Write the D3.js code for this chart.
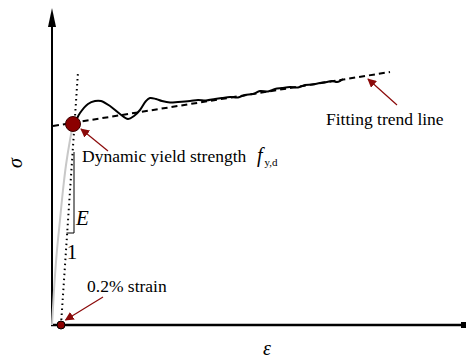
<!DOCTYPE html>
<html>
<head>
<meta charset="utf-8">
<script src="https://cdn.jsdelivr.net/npm/d3@7"></script>
<style>
  body { margin: 0; background: #fff; }
  svg { display: block; font-family: "Liberation Serif", "Times New Roman", serif; }
</style>
</head>
<body>
<div id="chart"></div>
<script>
// strain (arbitrary units) / stress (MPa-ish)
const testStrain = [2.1, 2.3, 2.8, 3.6, 4.3, 4.9, 5.8, 6.8, 7.6, 8.2, 8.8, 9.4, 9.8, 10.4, 11.0, 11.8, 12.6,
  13.8, 14.6, 15.4, 16.3, 17.0, 17.8, 18.6, 19.3, 20.1, 20.8, 21.6, 22.3, 23.0, 23.8, 24.6, 25.3, 26.0,
  26.8, 27.5, 28.0, 28.5, 28.8, 29.1];
const testStress = [402, 406, 424, 442, 448, 448, 438, 422, 412, 418, 430, 448, 454, 452, 448, 445, 446,
  448, 450, 449, 452, 454, 456, 455, 460, 462, 468, 467, 472, 474, 476, 475, 480, 481,
  484, 486, 488, 486, 488, 492];

const elasticStrain = [0, 0.2, 0.5, 0.8, 1.1, 1.4, 1.8, 2.1];
const elasticStress = [0, 70, 150, 210, 270, 320, 370, 402];

const offsetStrain = [0.9, 2.6];   // 0.2% offset line
const offsetStress = [0, 506];

const trendStrain = [0.1, 33.8];   // fitting trend line
const trendStress = [398, 506];

const yieldPoint = [2.1, 402];
const strainPoint = [0.9, 0];

const width = 468, height = 358;
const svg = d3.select("#chart").append("svg")
    .attr("width", width)
    .attr("height", height);

const x = d3.scaleLinear().domain([0, 41.4]).range([52, 466]);
const y = d3.scaleLinear().domain([0, 630]).range([325, 10]);

const red = "#8b0a0a";

const defs = svg.append("defs");
defs.append("marker")
    .attr("id", "redhead")
    .attr("viewBox", "0 0 10 10")
    .attr("refX", 9).attr("refY", 5)
    .attr("markerWidth", 9).attr("markerHeight", 9)
    .attr("markerUnits", "userSpaceOnUse")
    .attr("orient", "auto")
  .append("path")
    .attr("d", "M0,0 L10,5 L0,10 z")
    .attr("fill", red);

const line = d3.line().x(d => x(d[0])).y(d => y(d[1]));

// axes
svg.append("line")
    .attr("x1", x(0)).attr("y1", y(0))
    .attr("x2", x(0)).attr("y2", y(608))
    .attr("stroke", "#000").attr("stroke-width", 2);
svg.append("path")
    .attr("d", `M${x(0) - 4},${y(596)} L${x(0)},${y(634)} L${x(0) + 4},${y(596)} z`)
    .attr("fill", "#000");
svg.append("line")
    .attr("x1", x(0) - 1).attr("y1", y(0))
    .attr("x2", x(41.4)).attr("y2", y(0))
    .attr("stroke", "#000").attr("stroke-width", 2.5);
svg.append("rect")
    .attr("x", x(41.4) - 5).attr("y", y(0) - 3)
    .attr("width", 5).attr("height", 6)
    .attr("fill", "#000");

// elastic part
svg.append("path")
    .datum(elasticStrain.map((d, i) => [d, elasticStress[i]]))
    .attr("d", line.curve(d3.curveMonotoneY))
    .attr("fill", "none")
    .attr("stroke", "#c8c8c8")
    .attr("stroke-width", 2);
line.curve(d3.curveLinear);

// 0.2% offset line
svg.append("path")
    .datum(offsetStrain.map((d, i) => [d, offsetStress[i]]))
    .attr("d", line)
    .attr("stroke", "#000")
    .attr("stroke-width", 2)
    .attr("stroke-dasharray", "1.5,3.5");

// slope triangle
const triX = x(2.2), triTop = y(346), triBot = y(184), triLeft = x(1.45);
svg.append("path")
    .attr("d", `M${triX},${triTop} L${triX},${triBot} L${triLeft},${triBot}`)
    .attr("fill", "none")
    .attr("stroke", "#000")
    .attr("stroke-width", 1);
svg.append("text")
    .attr("x", triX + 2).attr("y", y(200))
    .style("font-size", "21px").style("font-style", "italic")
    .text("E");
svg.append("text")
    .attr("x", x(2.0)).attr("y", y(132))
    .attr("text-anchor", "middle")
    .style("font-size", "21px")
    .text("1");

// fitting trend line
svg.append("path")
    .datum(trendStrain.map((d, i) => [d, trendStress[i]]))
    .attr("d", line)
    .attr("stroke", "#000")
    .attr("stroke-width", 2)
    .attr("stroke-dasharray", "6,4");

// measured curve
svg.append("path")
    .datum(testStrain.map((d, i) => [d, testStress[i]]))
    .attr("d", line.curve(d3.curveCatmullRom))
    .attr("fill", "none")
    .attr("stroke", "#000")
    .attr("stroke-width", 2);

// points
svg.append("circle")
    .attr("cx", x(yieldPoint[0])).attr("cy", y(yieldPoint[1]))
    .attr("r", 7.5)
    .attr("fill", "#8b0000").attr("stroke", "#3a0000").attr("stroke-width", 1);
svg.append("circle")
    .attr("cx", x(strainPoint[0])).attr("cy", y(strainPoint[1]))
    .attr("r", 4)
    .attr("fill", "#8b0000").attr("stroke", "#000").attr("stroke-width", 1);

// annotations
function arrow(x1, y1, x2, y2) {
  svg.append("line")
      .attr("x1", x(x1)).attr("y1", y(y1))
      .attr("x2", x(x2)).attr("y2", y(y2))
      .attr("stroke", red).attr("stroke-width", 1.2)
      .attr("marker-end", "url(#redhead)");
}
arrow(5.6, 348, 2.9, 392);
arrow(5.1, 56, 1.35, 10);
arrow(34.5, 440, 31.6, 492);

const t1 = svg.append("text")
    .attr("y", y(326))
    .style("font-size", "17.5px");
t1.append("tspan").attr("x", x(3.0)).text("Dynamic yield strength");
t1.append("tspan").attr("x", x(20.5)).style("font-style", "italic").style("font-size", "20px").text("f");
t1.append("tspan").attr("dy", 4).attr("dx", 2).style("font-size", "11px").text("y,d");

svg.append("text")
    .attr("x", x(27.4)).attr("y", y(400))
    .style("font-size", "17.5px")
    .text("Fitting trend line");

svg.append("text")
    .attr("x", x(3.5)).attr("y", y(66))
    .style("font-size", "17.5px")
    .text("0.2% strain");

svg.append("text")
    .attr("transform", `translate(22,${y(324)}) rotate(-90)`)
    .attr("text-anchor", "middle")
    .style("font-size", "20px").style("font-style", "italic")
    .text("σ");

svg.append("text")
    .attr("x", x(21.5)).attr("y", 355)
    .attr("text-anchor", "middle")
    .style("font-size", "20px").style("font-style", "italic")
    .text("ε");
</script>
</body>
</html>
